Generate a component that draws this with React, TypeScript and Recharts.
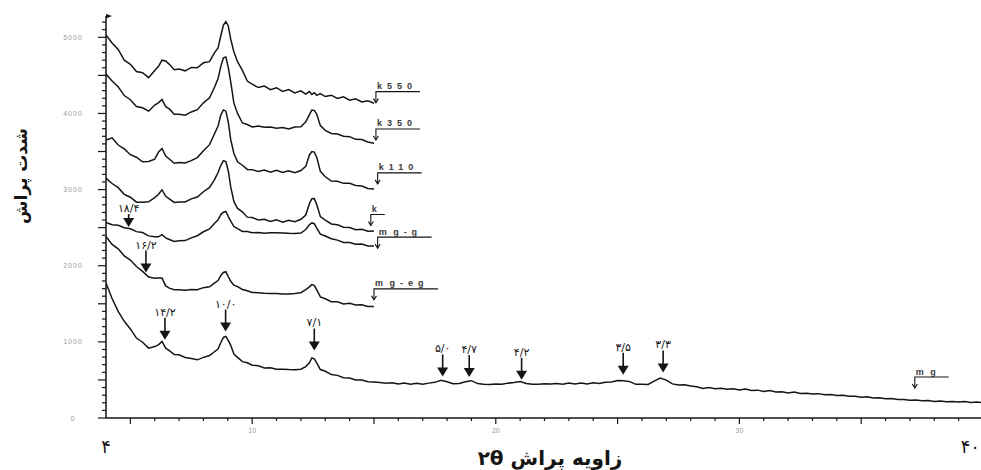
import { ComposedChart, Line, XAxis, YAxis, ReferenceDot } from "recharts"

// 2θ sample positions shared by the short scans (4–15°)
const SHORT_X = [
  4, 4.25, 4.5, 4.75, 5, 5.25, 5.5, 5.75, 6,
  6.15, 6.3, 6.45, 6.6, 6.8, 7, 7.25, 7.5, 7.75, 8,
  8.25, 8.45, 8.6, 8.72, 8.82, 8.92, 9.02, 9.12, 9.25, 9.4,
  9.6, 9.8, 10, 10.25, 10.5, 10.75, 11, 11.25, 11.5, 11.75,
  12, 12.2, 12.35, 12.45, 12.55, 12.65, 12.8, 13,
  13.25, 13.5, 13.75, 14, 14.25, 14.5, 14.75, 15,
]
// the untreated sample (mg) goes on to 40°
const MG_TAIL_X = Array.from({ length: 100 }, (_, i) => 15.25 + i * 0.25)

const K550 = [
  5030, 4925, 4840, 4700, 4645, 4550, 4535, 4470, 4565,
  4615, 4700, 4690, 4645, 4575, 4585, 4560, 4605, 4600, 4665,
  4680, 4795, 4860, 5030, 5160, 5205, 5150, 4975, 4810, 4680,
  4565, 4425, 4385, 4340, 4360, 4312, 4338, 4290, 4315, 4270,
  4298, 4255, 4288, 4250, 4272, 4238, 4262, 4222,
  4240, 4198, 4218, 4175, 4192, 4152, 4166, 4135,
]
const K350 = [
  4518, 4425, 4350, 4235, 4180, 4090, 4075, 4030, 4110,
  4140, 4185, 4090, 4060, 3990, 3990, 3978, 4020, 4050, 4140,
  4205, 4340, 4460, 4625, 4730, 4742, 4605, 4415, 4135, 4000,
  3875, 3855, 3822, 3835, 3818, 3822, 3805, 3815, 3795, 3822,
  3825, 3890, 3985, 4045, 4040, 3990, 3840, 3778,
  3738, 3730, 3700, 3695, 3660, 3658, 3625, 3610,
]
const K110 = [
  3652, 3680, 3585, 3535, 3458, 3425, 3365, 3370, 3400,
  3490, 3540, 3440, 3402, 3345, 3355, 3350, 3380, 3420, 3510,
  3590, 3730, 3835, 3985, 4046, 4030, 3885, 3655, 3475, 3365,
  3320, 3265, 3262, 3238, 3258, 3228, 3252, 3224, 3248, 3222,
  3250, 3305, 3455, 3500, 3492, 3425, 3240, 3168,
  3112, 3110, 3082, 3082, 3055, 3048, 3015, 3008,
]
const K = [
  3150, 3080, 3025, 2938, 2900, 2835, 2835, 2840, 2895,
  2935, 2998, 2912, 2878, 2832, 2838, 2838, 2878, 2902, 2972,
  3028, 3128, 3225, 3322, 3380, 3368, 3245, 3035, 2845, 2752,
  2708, 2638, 2632, 2602, 2610, 2580, 2602, 2572, 2598, 2578,
  2610, 2665, 2815, 2880, 2882, 2805, 2645, 2598,
  2548, 2538, 2505, 2502, 2474, 2478, 2452, 2455,
]
const MG_G = [
  2570, 2538, 2532, 2498, 2486, 2448, 2436, 2392, 2380,
  2380, 2408, 2365, 2345, 2318, 2328, 2330, 2366, 2394, 2446,
  2484, 2556, 2604, 2675, 2702, 2712, 2645, 2585, 2515, 2486,
  2450, 2450, 2434, 2436, 2428, 2432, 2432, 2430, 2426, 2424,
  2430, 2475, 2538, 2562, 2552, 2495, 2415, 2390,
  2355, 2336, 2306, 2306, 2282, 2285, 2260, 2258,
]
const MG_EG = [
  2384, 2280, 2222, 2130, 2075, 1990, 1925, 1852, 1835,
  1840, 1838, 1735, 1706, 1684, 1686, 1678, 1688, 1684, 1712,
  1724, 1772, 1805, 1875, 1912, 1922, 1855, 1795, 1745, 1726,
  1688, 1672, 1648, 1646, 1640, 1636, 1634, 1630, 1630, 1636,
  1645, 1685, 1722, 1752, 1742, 1684, 1590, 1566,
  1528, 1526, 1498, 1506, 1484, 1486, 1466, 1465,
]
const MG = [
  1772, 1570, 1400, 1270, 1170, 1050, 995, 918, 938,
  960, 1005, 918, 886, 834, 830, 794, 782, 764, 796,
  820, 870, 905, 995, 1058, 1072, 1015, 955, 840, 796,
  740, 726, 694, 686, 656, 660, 640, 640, 636, 634,
  640, 676, 726, 788, 776, 724, 636, 614,
  570, 560, 530, 524, 500, 498, 476, 472,
]
const MG_TAIL = [
  465, 455, 462, 448, 458, 444, 456, 442,
  458, 468, 494, 476, 450, 452, 476, 490,
  452, 442, 440, 446, 442, 458, 466, 478,
  452, 444, 444, 450, 446, 452, 444, 458,
  446, 460, 448, 462, 454, 468, 474, 492,
  490, 478, 442, 442, 440, 484, 525, 498,
  448, 432, 438, 420, 410, 388, 400, 384,
  390, 378, 384, 368, 380, 362, 366, 348,
  360, 342, 346, 330, 342, 322, 326, 314,
  320, 304, 310, 296, 300, 286, 286, 272,
  278, 262, 266, 252, 256, 244, 244, 234,
  236, 226, 230, 218, 224, 212, 218, 210,
  216, 204, 210, 202,
]

const X_TICKS = Array.from({ length: 37 }, (_, i) => 4 + i)
const Y_TICKS = Array.from({ length: 53 }, (_, i) => i * 100)
const X_NUMBER_LABELS = [10, 20, 30]
const X_END_LABELS: Record<number, string> = { 4: "۴", 40: "۴۰" }

// d-spacing arrows (Å)
const PEAK_TEXT = ["۱۸/۴", "۱۶/۲", "۱۴/۲", "۱۰/۰", "۷/۱", "۵/۰", "۴/۷", "۴/۲", "۳/۵", "۳/۳"]
const PEAK_X = [4.93, 5.64, 6.42, 8.91, 12.55, 17.82, 18.91, 21.06, 25.23, 26.87]
const PEAK_Y = [2508, 1911, 1028, 1136, 887, 546, 538, 503, 568, 598]

// sample name tags at the end of each scan
const TAG_TEXT = ["k550", "k350", "k110", "k", "m g-g", "m g-eg", "m g"]
const TAG_X = [15.08, 15.08, 15.15, 14.87, 15.15, 15.0, 37.2]
const TAG_Y = [4142, 3652, 3075, 2528, 2231, 1552, 394]

const toPoints = (xs: number[], ys: number[]) => xs.map((x, i) => ({ x, y: ys[i] }))

const SERIES = [
  { key: "k550", points: toPoints(SHORT_X, K550) },
  { key: "k350", points: toPoints(SHORT_X, K350) },
  { key: "k110", points: toPoints(SHORT_X, K110) },
  { key: "k", points: toPoints(SHORT_X, K) },
  { key: "mg-g", points: toPoints(SHORT_X, MG_G) },
  { key: "mg-eg", points: toPoints(SHORT_X, MG_EG) },
  { key: "mg", points: toPoints([...SHORT_X, ...MG_TAIL_X], [...MG, ...MG_TAIL]) },
]

const INK = "#151515"
const GREY = "#9a9a9a"
const PERSIAN = "'DejaVu Sans', sans-serif"
const LATIN = "'Liberation Sans', Arial, sans-serif"

function XTick({ x, y, payload }: any) {
  const v = payload.value
  const len = v % 5 === 0 ? 6 : 3
  const end = X_END_LABELS[v]
  return (
    <g>
      {v > 4 && <line x1={x} x2={x} y1={y} y2={y + len} stroke={INK} strokeWidth={1.2} />}
      {X_NUMBER_LABELS.includes(v) && (
        <text x={x} y={y + 14.5} textAnchor="middle" fontSize={7} fill={GREY} fontFamily={LATIN}>
          {v}
        </text>
      )}
      {end && (
        <text
          x={v === 40 ? x - 3 : x}
          y={y + 35}
          textAnchor={v === 40 ? "end" : "middle"}
          fontSize={18}
          fill={INK}
          fontFamily={PERSIAN}
        >
          {end}
        </text>
      )}
    </g>
  )
}

function YTick({ x, y, payload }: any) {
  const v = payload.value
  const len = v % 500 === 0 ? 8 : 4
  return (
    <g>
      <line x1={x - len} x2={x} y1={y} y2={y} stroke={INK} strokeWidth={1.2} />
      {v % 1000 === 0 && (
        <text x={x - 33} y={y + 2.5} textAnchor="middle" fontSize={7} fill={GREY} letterSpacing={1} fontFamily={LATIN}>
          {v}
        </text>
      )}
    </g>
  )
}

function PeakArrow({ cx, cy, text }: any) {
  const len = text === "۱۸/۴" ? 13 : 22
  return (
    <g>
      <line x1={cx} x2={cx} y1={cy - len} y2={cy - 8} stroke={INK} strokeWidth={1.6} />
      <polygon points={`${cx - 5.5},${cy - 9} ${cx + 5.5},${cy - 9} ${cx},${cy}`} fill={INK} />
      <text x={cx} y={cy - len - 2} textAnchor="middle" fontSize={11} fill={INK} fontFamily={PERSIAN}>
        {text}
      </text>
    </g>
  )
}

function SampleTag({ cx, cy, text }: any) {
  const w = text.length * 10 + 4
  const top = cy - 11
  return (
    <g>
      <polyline points={`${cx + w},${top} ${cx},${top} ${cx},${cy}`} fill="none" stroke={INK} strokeWidth={1.1} />
      <polyline points={`${cx - 2.5},${cy - 4} ${cx},${cy} ${cx + 2.5},${cy - 4}`} fill="none" stroke={INK} strokeWidth={1.1} />
      <text
        x={cx + 1}
        y={top - 2.5}
        fontSize={9}
        fontWeight="bold"
        letterSpacing={5}
        wordSpacing={-6}
        fill="#3a3a3a"
        fontFamily={LATIN}
      >
        {text}
      </text>
    </g>
  )
}

function AxisFlag({ cx, cy }: any) {
  return <polygon points={`${cx},${cy - 2} ${cx + 6},${cy} ${cx},${cy + 2.5}`} fill={INK} />
}

const xTitle = () => (
  <text x={550} y={465} textAnchor="middle" direction="rtl" fontSize={20} fontWeight="bold" fill={INK} fontFamily={PERSIAN}>
    زاویه پراش ۲θ
  </text>
)

const yTitle = () => (
  <text
    x={27}
    y={176}
    transform="rotate(-90, 27, 176)"
    textAnchor="middle"
    direction="rtl"
    fontSize={17}
    fontWeight="bold"
    fill={INK}
    fontFamily={PERSIAN}
  >
    شدت پراش
  </text>
)

export default function App() {
  return (
    <div
      style={{
        position: "fixed",
        left: 0,
        top: 0,
        width: 981,
        height: 470,
        overflow: "hidden",
        background: "#fff",
      }}
    >
      <ComposedChart width={1000} height={470} margin={{ top: 16, right: 17, bottom: 12, left: 10 }}>
        <XAxis
          type="number"
          dataKey="x"
          domain={[4, 40]}
          ticks={X_TICKS}
          interval={0}
          tick={XTick}
          tickLine={false}
          tickSize={0}
          tickMargin={0}
          height={40}
          axisLine={{ stroke: INK, strokeWidth: 1.5 }}
          allowDataOverflow
          label={xTitle}
        />
        <YAxis
          type="number"
          dataKey="y"
          domain={[0, 5280]}
          ticks={Y_TICKS}
          interval={0}
          tick={YTick}
          tickLine={false}
          tickSize={0}
          tickMargin={0}
          width={96}
          axisLine={{ stroke: INK, strokeWidth: 1.5 }}
          allowDataOverflow
          label={yTitle}
        />
        {SERIES.map((s) => (
          <Line
            key={s.key}
            data={s.points}
            dataKey="y"
            type="linear"
            stroke={INK}
            strokeWidth={1.5}
            dot={false}
            activeDot={false}
            isAnimationActive={false}
          />
        ))}
        {PEAK_TEXT.map((t, i) => (
          <ReferenceDot
            key={t}
            x={PEAK_X[i]}
            y={PEAK_Y[i]}
            r={0}
            shape={(p: any) => <PeakArrow cx={p.cx} cy={p.cy} text={t} />}
          />
        ))}
        {TAG_TEXT.map((t, i) => (
          <ReferenceDot
            key={t}
            x={TAG_X[i]}
            y={TAG_Y[i]}
            r={0}
            shape={(p: any) => <SampleTag cx={p.cx} cy={p.cy} text={t} />}
          />
        ))}
        <ReferenceDot x={4} y={5280} r={0} shape={(p: any) => <AxisFlag cx={p.cx} cy={p.cy} />} />
      </ComposedChart>
    </div>
  )
}
